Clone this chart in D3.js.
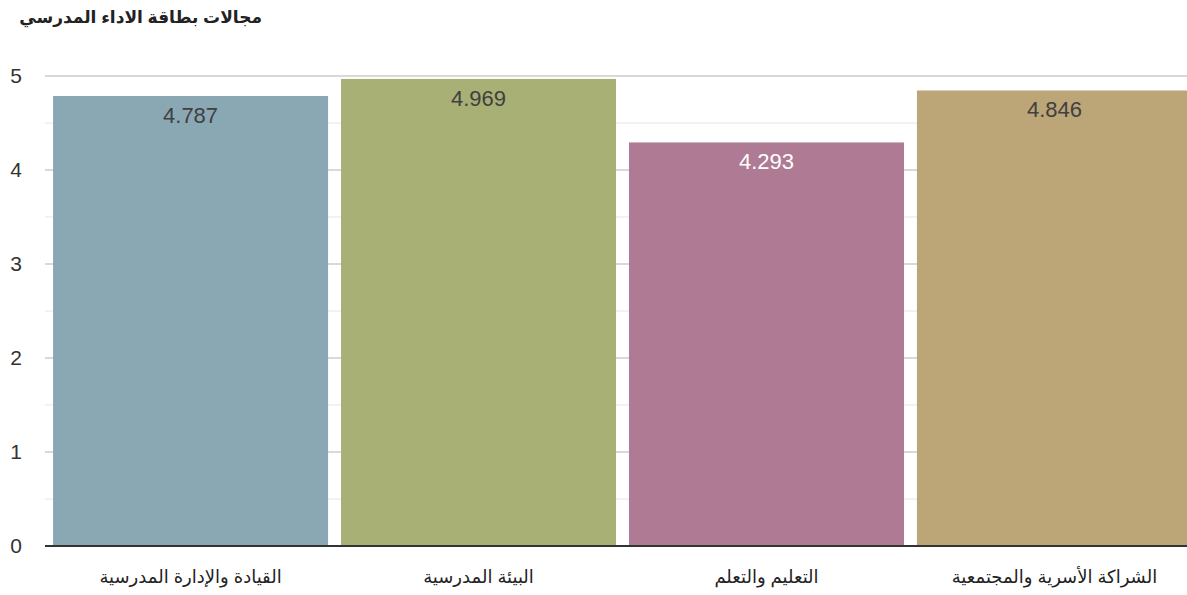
<!DOCTYPE html>
<html>
<head>
<meta charset="utf-8">
<script src="https://cdn.jsdelivr.net/npm/d3@7"></script>
<style>
body { margin: 0; background: #fff; }
text { font-family: "Liberation Sans", "DejaVu Sans", sans-serif; }
</style>
</head>
<body>
<div id="chart"></div>
<script>
// chart data
var categories = ["القيادة والإدارة المدرسية", "البيئة المدرسية", "التعليم والتعلم", "الشراكة الأسرية والمجتمعية"];
var values = [4.787, 4.969, 4.293, 4.846];
var colors = ["#8aa8b4", "#a8b075", "#ae7a94", "#bca577"];
var labelColors = ["#404040", "#404040", "#ffffff", "#404040"];
var yTicks = [0, 1, 2, 3, 4, 5];
var yMinor = [0.5, 1.5, 2.5, 3.5, 4.5];

var W = 1187, H = 595;
var mLeft = 45, mRight = 1187, mTop = 76, mBottom = 546;

var svg = d3.select("#chart").append("svg").attr("width", W).attr("height", H);

// last bar runs past the right edge in the original
var x = d3.scaleBand().domain(categories).range([mLeft, 1200]).paddingInner(0.045).paddingOuter(0.028);
var y = d3.scaleLinear().domain([0, 5]).range([mBottom, mTop]);

// title
svg.append("text").attr("x", 262).attr("y", 23).attr("text-anchor", "end")
  .attr("font-size", 17).attr("font-weight", "bold").attr("fill", "#222")
  .text("مجالات بطاقة الاداء المدرسي");

// grid
svg.selectAll(".minor").data(yMinor).enter().append("line")
  .attr("x1", mLeft).attr("x2", mRight).attr("y1", d => y(d)).attr("y2", d => y(d))
  .attr("stroke", "#eeeeee").attr("stroke-width", 1.5);
svg.selectAll(".major").data(yTicks.filter(d => d > 0)).enter().append("line")
  .attr("x1", mLeft).attr("x2", mRight).attr("y1", d => y(d)).attr("y2", d => y(d))
  .attr("stroke", "#d9d9d9").attr("stroke-width", 2);

// y tick labels
svg.selectAll(".ytick").data(yTicks).enter().append("text")
  .attr("x", 16).attr("y", d => y(d) + 7).attr("text-anchor", "middle")
  .attr("font-size", 21).attr("fill", "#333").text(d => d);

// bars
svg.selectAll(".bar").data(values).enter().append("rect")
  .attr("x", (d, i) => x(categories[i])).attr("width", x.bandwidth())
  .attr("y", d => y(d)).attr("height", d => mBottom - y(d))
  .attr("fill", (d, i) => colors[i]);

// value labels
svg.selectAll(".val").data(values).enter().append("text")
  .attr("x", (d, i) => x(categories[i]) + x.bandwidth() / 2).attr("y", d => y(d) + 27)
  .attr("text-anchor", "middle").attr("font-size", 22)
  .attr("fill", (d, i) => labelColors[i]).text(d => d3.format(".3f")(d));

// x axis line
svg.append("line").attr("x1", mLeft).attr("x2", mRight).attr("y1", mBottom).attr("y2", mBottom)
  .attr("stroke", "#333").attr("stroke-width", 2);

// category labels
svg.selectAll(".cat").data(categories).enter().append("text")
  .attr("x", d => x(d) + x.bandwidth() / 2).attr("y", 583)
  .attr("text-anchor", "middle").attr("font-size", 18).attr("fill", "#222")
  .text(d => d);
</script>
</body>
</html>
